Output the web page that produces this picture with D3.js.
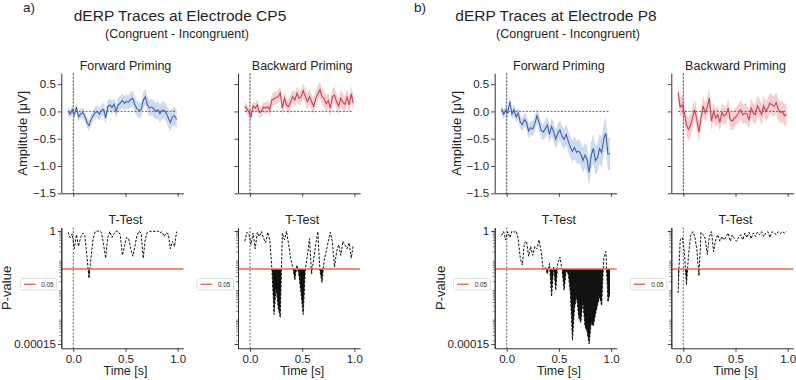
<!DOCTYPE html>
<html>
<head>
<meta charset="utf-8">
<script src="https://cdn.jsdelivr.net/npm/d3@7"></script>
<style>
  body { margin: 0; background: #fff; }
  text { font-family: "Liberation Sans", Arial, sans-serif; fill: #262626; }
</style>
</head>
<body>
<div id="chart"></div>
<script>
// sample times [s]
var times = [-0.05,-0.03,-0.01,0.01,0.03,0.05,0.07,0.09,0.11,0.13,0.15,0.17,0.19,0.21,0.23,0.25,0.27,0.29,0.31,0.33,
  0.35,0.37,0.39,0.41,0.43,0.45,0.47,0.49,0.51,0.53,0.55,0.57,0.59,0.61,0.63,0.65,0.67,0.69,0.71,0.73,
  0.75,0.77,0.79,0.81,0.83,0.85,0.87,0.89,0.91,0.93,0.95,0.97,0.99];

// dERP amplitudes [µV]
var ampCP5_fwd = [0.0,-0.05,0.03,-0.06,0.08,-0.1,-0.05,-0.02,-0.08,-0.2,-0.26,-0.15,-0.08,-0.02,0.0,-0.05,0.02,0.04,-0.12,0.08,
  0.12,0.07,0.13,0.0,0.12,0.15,0.2,0.15,0.18,0.17,0.22,0.24,0.12,0.05,0.02,0.03,0.2,0.27,0.12,0.06,
  0.08,0.05,0.0,0.03,-0.04,0.02,0.02,-0.03,-0.12,-0.2,-0.1,-0.08,-0.15];
var ampCP5_bwd = [0.09,0.05,-0.02,-0.09,0.1,0.06,0.12,-0.02,0.0,0.08,0.06,0.09,0.03,0.21,0.23,0.25,0.27,0.34,0.06,0.24,
  0.12,0.09,0.18,0.27,0.21,0.33,0.24,0.27,0.38,0.27,0.18,0.27,0.18,0.09,0.24,0.32,0.4,0.27,0.24,0.14,
  0.2,0.06,0.27,0.3,0.17,0.1,0.24,0.17,0.13,0.26,0.12,0.32,0.15];
var ampP8_fwd = [0.05,-0.05,0.02,-0.03,0.18,-0.05,0.03,-0.1,-0.03,-0.2,-0.24,-0.15,-0.2,-0.36,-0.3,-0.32,-0.22,-0.08,-0.2,-0.35,
  -0.38,-0.32,-0.25,-0.42,-0.28,-0.37,-0.51,-0.4,-0.34,-0.45,-0.51,-0.42,-0.55,-0.65,-0.73,-0.66,-0.75,-0.73,-0.78,-0.9,
  -0.8,-0.88,-1.12,-0.8,-0.68,-0.9,-0.85,-0.68,-0.75,-0.5,-0.4,-0.78,-0.78];
var ampP8_bwd = [0.35,0.08,0.12,-0.02,-0.25,-0.33,-0.25,-0.1,0.03,-0.15,-0.38,-0.12,0.1,-0.03,0.08,0.25,-0.18,0.0,-0.12,-0.06,
  -0.2,-0.02,-0.08,-0.06,0.06,-0.15,-0.18,-0.12,-0.09,-0.03,0.03,-0.06,-0.03,-0.05,-0.15,0.06,-0.03,-0.06,0.1,0.04,
  -0.06,0.1,0.0,0.06,0.15,0.12,0.09,0.16,0.04,-0.02,0.0,-0.08,-0.05];

// confidence band half widths [µV]
var errCP5_fwd = [0.08,0.08,0.08,0.09,0.09,0.09,0.09,0.1,0.1,0.1,0.1,0.1,0.1,0.11,0.11,0.11,0.11,0.12,0.12,0.12,
  0.12,0.12,0.12,0.12,0.13,0.13,0.13,0.13,0.13,0.13,0.14,0.14,0.14,0.14,0.14,0.14,0.15,0.15,0.15,0.15,
  0.15,0.15,0.15,0.16,0.16,0.16,0.16,0.16,0.17,0.17,0.17,0.17,0.17];
var errCP5_bwd = [0.08,0.08,0.09,0.09,0.09,0.1,0.1,0.1,0.1,0.1,0.11,0.11,0.11,0.11,0.12,0.12,0.12,0.12,0.12,0.12,
  0.12,0.13,0.13,0.13,0.13,0.13,0.13,0.13,0.14,0.14,0.14,0.14,0.14,0.14,0.14,0.15,0.15,0.15,0.15,0.15,
  0.15,0.15,0.15,0.15,0.15,0.15,0.15,0.15,0.15,0.15,0.15,0.15,0.15];
var errP8_fwd = [0.09,0.09,0.1,0.1,0.1,0.1,0.11,0.11,0.11,0.12,0.12,0.12,0.13,0.13,0.13,0.14,0.14,0.14,0.15,0.15,
  0.15,0.16,0.16,0.16,0.17,0.17,0.17,0.18,0.18,0.18,0.19,0.19,0.2,0.2,0.2,0.21,0.21,0.22,0.22,0.23,
  0.23,0.24,0.25,0.25,0.26,0.26,0.27,0.27,0.28,0.28,0.29,0.29,0.3];
var errP8_bwd = [0.16,0.17,0.18,0.19,0.2,0.21,0.21,0.2,0.19,0.19,0.19,0.18,0.18,0.18,0.18,0.18,0.17,0.17,0.17,0.17,
  0.17,0.17,0.17,0.17,0.17,0.17,0.17,0.17,0.17,0.18,0.18,0.18,0.18,0.18,0.18,0.18,0.18,0.18,0.19,0.19,
  0.19,0.19,0.19,0.19,0.19,0.19,0.19,0.2,0.2,0.2,0.2,0.2,0.2];

// t-test p-values
var pCP5_fwd = [0.9,0.6,0.8,0.25,0.75,0.3,0.6,0.85,0.7,0.15,0.025,0.13,0.55,0.95,0.98,1.0,0.9,0.35,0.12,0.6,
  0.95,0.6,0.8,1.0,0.95,0.75,0.15,0.3,0.6,0.55,0.25,0.14,0.3,0.7,0.98,0.85,0.12,0.55,0.9,0.98,
  0.95,0.98,0.95,1.0,0.85,0.95,0.65,0.85,0.8,0.25,0.45,0.3,0.95];
var pCP5_bwd = [0.45,0.9,0.75,0.35,0.85,0.25,0.9,0.64,0.95,0.56,0.4,0.9,0.5,0.05,0.0015,0.012,0.0025,0.0012,0.85,0.5,
  0.98,0.35,0.12,0.055,0.022,0.07,0.03,0.007,0.0015,0.05,0.15,0.55,0.035,0.11,0.35,0.95,0.045,0.018,0.1,0.2,
  0.45,0.9,0.4,0.06,0.2,0.34,0.15,0.45,0.34,0.25,0.4,0.12,0.34];
var pP8_fwd = [0.7,0.95,0.5,0.95,0.6,0.98,0.9,1.0,0.55,0.12,0.07,0.4,0.45,0.14,0.3,0.15,0.3,0.25,0.5,0.2,
  0.05,0.06,0.035,0.08,0.006,0.06,0.01,0.08,0.13,0.05,0.01,0.045,0.035,0.008,0.0002,0.0025,0.006,0.0012,0.0008,0.004,
  0.0006,0.0004,0.00015,0.0008,0.0006,0.0015,0.003,0.006,0.003,0.12,0.2,0.004,0.008];
var pP8_bwd = [0.008,0.5,0.6,0.2,0.015,0.15,0.7,0.95,0.65,0.23,0.03,0.9,0.75,0.55,0.16,0.65,0.95,0.2,0.5,0.75,
  0.45,0.65,0.5,0.64,0.85,0.45,0.73,0.55,0.45,0.6,0.75,0.5,0.85,0.6,0.9,0.55,0.85,0.65,0.9,0.75,
  0.95,0.65,0.85,0.95,0.6,0.95,0.85,0.75,0.95,0.83,0.95,0.85,0.95];

var alpha = 0.05;
var timeTicks = [0, 0.5, 1.0];
var ampTicks = [0.5, 0.0, -0.5, -1.0, -1.5];
var pTicks = [0.00015, 1];

var svg = d3.select("#chart").append("svg")
    .attr("width", 796)
    .attr("height", 380);

var W = 122.1;
var xDom = [-0.115, 1.055];
var ampY = d3.scaleLinear().domain([-1.5, 0.7]).range([193.3, 73.2]);
var pY = d3.scaleLog().domain([0.000107, 1.31]).range([348.3, 227.5]);
var alphaColor = "#ef6548";

var panels = [
  {left: 61.3,  title: "Forward Priming",  amp: ampCP5_fwd, err: errCP5_fwd, p: pCP5_fwd, line: "#4062a8", band: "#c6d3ec", labels: true},
  {left: 238,   title: "Backward Priming", amp: ampCP5_bwd, err: errCP5_bwd, p: pCP5_bwd, line: "#c8424f", band: "#f3c8cb", labels: false},
  {left: 494.7, title: "Forward Priming",  amp: ampP8_fwd,  err: errP8_fwd,  p: pP8_fwd,  line: "#4062a8", band: "#c6d3ec", labels: true},
  {left: 671.3, title: "Backward Priming", amp: ampP8_bwd,  err: errP8_bwd,  p: pP8_bwd,  line: "#c8424f", band: "#f3c8cb", labels: false}
];

function styleAxis(g) {
  g.selectAll(".domain").attr("stroke", "#333").attr("stroke-width", 1);
  g.selectAll(".tick line").attr("stroke", "#333").attr("stroke-width", 0.9);
  g.selectAll(".tick text").attr("fill", "#262626")
    .style("font-family", "'Liberation Sans', Arial, sans-serif");
}

var defs = svg.append("defs");

panels.forEach(function(p, pi) {
  var x = d3.scaleLinear().domain(xDom).range([p.left, p.left + W]);

  // ---- amplitude panel ----
  var g = svg.append("g");

  g.append("path")
    .datum(p.amp)
    .attr("fill", p.band)
    .attr("opacity", 0.85)
    .attr("d", d3.area()
      .x(function(d, i) { return x(times[i]); })
      .y0(function(d, i) { return ampY(d - p.err[i]); })
      .y1(function(d, i) { return ampY(d + p.err[i]); }));

  g.append("line")
    .attr("x1", x(times[0])).attr("x2", x(times[times.length - 1]))
    .attr("y1", ampY(0)).attr("y2", ampY(0))
    .attr("stroke", "#444").attr("stroke-width", 0.8)
    .attr("stroke-dasharray", "2,1.5");

  g.append("line")
    .attr("x1", x(0)).attr("x2", x(0))
    .attr("y1", ampY.range()[1]).attr("y2", ampY.range()[0])
    .attr("stroke", "#555").attr("stroke-width", 1)
    .attr("stroke-dasharray", "2.5,1");

  g.append("path")
    .datum(p.amp)
    .attr("fill", "none")
    .attr("stroke", p.line)
    .attr("stroke-width", 1.1)
    .attr("d", d3.line()
      .x(function(d, i) { return x(times[i]); })
      .y(function(d) { return ampY(d); }));

  var ya = g.append("g")
    .attr("transform", "translate(" + p.left + ",0)")
    .call(d3.axisLeft(ampY).tickValues(ampTicks).tickSize(3.5).tickSizeOuter(0).tickPadding(2)
      .tickFormat(p.labels ? d3.format(".1f") : ""));
  ya.selectAll("text").attr("font-size", 11.5);
  styleAxis(ya);

  var xa = g.append("g")
    .attr("transform", "translate(0," + ampY.range()[0] + ")")
    .call(d3.axisBottom(x).tickValues(timeTicks).tickSize(3.5).tickSizeOuter(0).tickFormat(""));
  styleAxis(xa);

  g.append("text")
    .attr("x", x(0.5)).attr("y", 70)
    .attr("text-anchor", "middle")
    .attr("font-size", 12.5)
    .text(p.title);

  if (p.labels) {
    g.append("text")
      .attr("transform", "translate(" + (p.left - 34) + "," + d3.mean(ampY.range()) + ") rotate(-90)")
      .attr("text-anchor", "middle")
      .attr("font-size", 13)
      .text("Amplitude [\u03bcV]");
  }

  // ---- p-value panel ----
  var h = svg.append("g");
  var yA = Math.round(pY(alpha));

  // significant stretches: fill between p and alpha, kept below the alpha line
  var clipId = "sig" + pi;
  defs.append("clipPath").attr("id", clipId)
    .append("rect")
    .attr("x", p.left).attr("width", W)
    .attr("y", yA).attr("height", pY.range()[0] - yA);

  h.append("path")
    .datum(p.p)
    .attr("clip-path", "url(#" + clipId + ")")
    .attr("fill", "#111")
    .attr("d", d3.area()
      .x(function(d, i) { return x(times[i]); })
      .y0(yA)
      .y1(function(d) { return pY(d); }));

  h.append("line")
    .attr("x1", x(0)).attr("x2", x(0))
    .attr("y1", pY.range()[1]).attr("y2", pY.range()[0])
    .attr("stroke", "#444").attr("stroke-width", 0.8)
    .attr("stroke-dasharray", "2,1.5");

  h.append("path")
    .datum(p.p)
    .attr("fill", "none")
    .attr("stroke", "#111")
    .attr("stroke-width", 1)
    .attr("stroke-dasharray", "2.5,1.5")
    .attr("d", d3.line()
      .x(function(d, i) { return x(times[i]); })
      .y(function(d) { return pY(d); }));

  h.append("line")
    .attr("x1", p.left).attr("x2", p.left + W)
    .attr("y1", yA).attr("y2", yA)
    .attr("stroke", alphaColor).attr("stroke-width", 1.6);

  var minor = h.append("g")
    .attr("transform", "translate(" + p.left + ",0)")
    .call(d3.axisLeft(pY).tickValues(pY.ticks()).tickSize(2).tickSizeOuter(0).tickFormat(""));
  styleAxis(minor);
  minor.selectAll(".tick line").attr("stroke-width", 0.6);

  var yp = h.append("g")
    .attr("transform", "translate(" + p.left + ",0)")
    .call(d3.axisLeft(pY).tickValues(pTicks).tickSize(3.5).tickSizeOuter(0).tickPadding(2)
      .tickFormat(p.labels ? function(d) { return d === 1 ? "1" : "0.00015"; } : ""));
  yp.selectAll("text").attr("font-size", 11.5);
  styleAxis(yp);

  var xb = h.append("g")
    .attr("transform", "translate(0," + pY.range()[0] + ")")
    .call(d3.axisBottom(x).tickValues(timeTicks).tickSize(3.5).tickSizeOuter(0).tickPadding(3)
      .tickFormat(d3.format(".1f")));
  xb.selectAll("text").attr("font-size", 11.5);
  styleAxis(xb);

  h.append("text")
    .attr("x", x(0.5)).attr("y", 224)
    .attr("text-anchor", "middle")
    .attr("font-size", 12.5)
    .text("T-Test");

  h.append("text")
    .attr("x", x(0.5)).attr("y", 374.5)
    .attr("text-anchor", "middle")
    .attr("font-size", 12.5)
    .text("Time [s]");

  if (p.labels) {
    h.append("text")
      .attr("transform", "translate(" + (p.left - 50) + "," + d3.mean(pY.range()) + ") rotate(-90)")
      .attr("text-anchor", "middle")
      .attr("font-size", 13)
      .text("P-value");
  }

  // legend
  var lg = h.append("g").attr("transform", "translate(" + (p.left - 41) + ",278.5)");
  lg.append("rect")
    .attr("width", 36.5).attr("height", 11.5).attr("rx", 1.5)
    .attr("fill", "#fff").attr("stroke", "#d4d4d4").attr("stroke-width", 0.8);
  lg.append("line")
    .attr("x1", 3.5).attr("x2", 15).attr("y1", 5.8).attr("y2", 5.8)
    .attr("stroke", alphaColor).attr("stroke-width", 1.4);
  lg.append("text")
    .attr("x", 21).attr("y", 8)
    .attr("font-size", 6.3)
    .text(String(alpha));
});

// figure headings
var heads = [
  {tag: "a)", tx: 23, title: "dERP Traces at Electrode CP5", cx: 180, sx: 177},
  {tag: "b)", tx: 414, title: "dERP Traces at Electrode P8", cx: 556, sx: 568}
];
heads.forEach(function(d) {
  svg.append("text").attr("x", d.tx).attr("y", 12).attr("font-size", 13.5).text(d.tag);
  svg.append("text").attr("x", d.cx).attr("y", 21).attr("text-anchor", "middle")
    .attr("font-size", 15.5).text(d.title);
  svg.append("text").attr("x", d.sx).attr("y", 37.5).attr("text-anchor", "middle")
    .attr("font-size", 12.5).text("(Congruent - Incongruent)");
});
</script>
</body>
</html>
